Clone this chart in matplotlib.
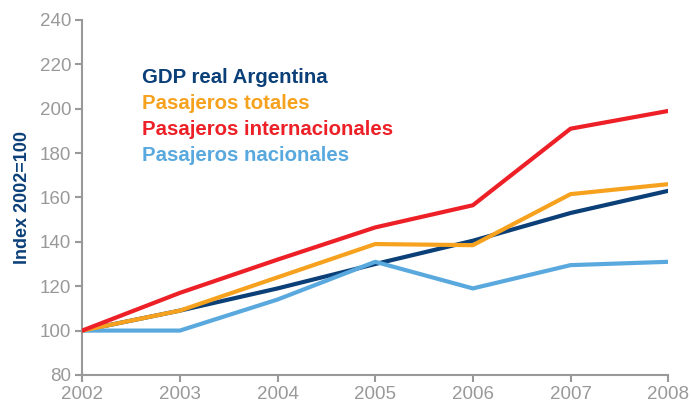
import matplotlib.pyplot as plt

plt.rcParams['font.family'] = ['Liberation Sans', 'DejaVu Sans']

years = [2002, 2003, 2004, 2005, 2006, 2007, 2008]
gdp = [100, 109, 119, 130, 140.5, 153, 163]
totales = [100, 109, 124, 139, 138.5, 161.5, 166]
internacionales = [100, 117, 132, 146.5, 156.5, 191, 199]
nacionales = [100, 100, 114, 131, 119, 129.5, 131]

labels = ["GDP real Argentina", "Pasajeros totales",
          "Pasajeros internacionales", "Pasajeros nacionales"]
colors = ["#0b3f78", "#f6a21e", "#ed2027", "#5aa9de"]
grey = "#999999"

fig = plt.figure(figsize=(6.91, 4.08), dpi=100)
ax = fig.add_axes([0.119, 0.081, 0.848, 0.870])

ax.plot(years, gdp, color=colors[0], lw=3, solid_capstyle='round', zorder=3)
ax.plot(years, nacionales, color=colors[3], lw=3, solid_capstyle='round', zorder=4)
ax.plot(years, totales, color=colors[1], lw=3, solid_capstyle='round', zorder=5)
ax.plot(years, internacionales, color=colors[2], lw=3, solid_capstyle='round', zorder=6)

ax.set_xlim(2002, 2008)
ax.set_ylim(80, 240)
ax.set_xticks(years)
ax.set_yticks(range(80, 241, 20))

for s in ['top', 'right']:
    ax.spines[s].set_visible(False)
for s in ['left', 'bottom']:
    ax.spines[s].set_color(grey)
    ax.spines[s].set_linewidth(1.5)
ax.tick_params(colors=grey, labelcolor=grey, labelsize=13.5, width=1.5, length=5, pad=3)

ax.set_ylabel("Index 2002=100", color=colors[0], fontsize=13, fontweight='bold', labelpad=6)

for i, (lab, c) in enumerate(zip(labels, colors)):
    ax.text(0.102, 0.837 - i * 0.0725, lab, color=c, fontsize=14.7, fontweight='bold',
            transform=ax.transAxes, va='center', ha='left')

fig.savefig("out.png", dpi=100)
